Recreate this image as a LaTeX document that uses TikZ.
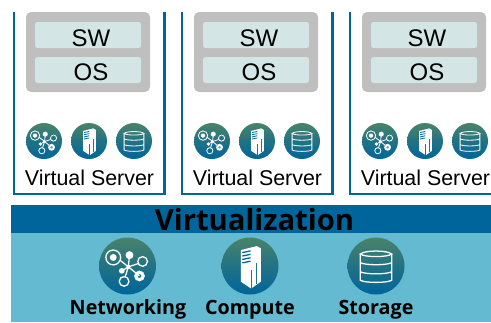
\documentclass[tikz,border=0pt]{standalone}
\usepackage{fontspec}
\setmainfont{Liberation Sans}
\newfontfamily\boldlabel{Open Sans}
\definecolor{frameblue}{HTML}{00659B}
\definecolor{panelblue}{HTML}{63BAD1}
\definecolor{boxgray}{HTML}{BFBFBF}
\definecolor{boxpale}{HTML}{D3E5E4}
\definecolor{icongreen}{HTML}{4A8369}
\tikzset{
  x=1pt,y=-1pt,
  servframe/.style={draw=frameblue,line width=2.5pt},
  graybox/.style={fill=boxgray,rounded corners=5pt},
  palebox/.style={fill=boxpale,rounded corners=2.5pt},
  layertext/.style={font=\fontsize{24}{26}\selectfont,text=black,inner sep=0pt,anchor=base},
  vstext/.style={font=\fontsize{21.4}{24}\selectfont,text=black,inner sep=0pt,anchor=base},
  baselabel/.style={font=\boldlabel\bfseries\fontsize{19.7}{22}\selectfont,text=black,inner sep=0pt,anchor=base},
  icondisc/.style={top color=icongreen,bottom color=frameblue,middle color=icongreen!45!frameblue},
  pics/netic/.style={code={
    \shade[icondisc] (0,0) circle[radius=#1];
    \begin{scope}[x=#1 pt,y=-#1 pt,draw=white,fill=white,line width=#1*0.045pt]
      \draw (0.03,0.03) -- (-0.26,-0.2) (0.03,0.03) -- (0.07,-0.38) (0.03,0.03) -- (0.39,-0.09)
            (0.03,0.03) -- (-0.2,0.17) (0.03,0.03) -- (0.42,0.35) (0.03,0.03) -- (-0.08,0.38);
      \fill (0.03,0.03) circle[radius=0.07];
      \draw[fill=none] (-0.5,-0.3) circle[radius=0.26];
      \fill (-0.5,-0.3) circle[radius=0.12];
      \fill (0.07,-0.38) circle[radius=0.14];
      \draw[fill=none] (0.53,-0.16) circle[radius=0.17];
      \fill (-0.2,0.17) circle[radius=0.1];
      \draw[fill=none,line width=#1*0.11pt] (0.42,0.35) circle[radius=0.13];
      \draw[fill=none] (-0.12,0.54) circle[radius=0.17];
    \end{scope}
  }},
  pics/towic/.style={code={
    \shade[icondisc] (0,0) circle[radius=#1];
    \begin{scope}[x=#1 pt,y=-#1 pt]
      \fill[white] (-0.32,-0.56) -- (0.24,-0.7) -- (0.38,-0.62) -- (0.38,0.55) -- (0.04,0.79) -- (-0.32,0.55) -- cycle;
      \draw[icongreen!50!frameblue,line width=#1*0.03pt]
        (0.24,-0.1) -- (0.24,0.62) (0.04,0.14) -- (0.04,0.79);
      \draw[frameblue,line width=#1*0.045pt]
        (-0.27,-0.47) -- (0.02,-0.53) (-0.27,-0.35) -- (0.02,-0.41) (-0.27,-0.23) -- (0.02,-0.29)
        (-0.27,-0.11) -- (0.02,-0.17);
    \end{scope}
  }},
  pics/stoic/.style={code={
    \shade[icondisc] (0,0) circle[radius=#1];
    \begin{scope}[x=#1 pt,y=-#1 pt,draw=white,line width=#1*0.045pt]
      \draw (-0.55,-0.42) -- (-0.55,0.5) .. controls (-0.4,0.6) and (0.4,0.6) .. (0.55,0.5) -- (0.55,-0.42);
      \draw (-0.55,-0.42) .. controls (-0.4,-0.56) and (0.4,-0.56) .. (0.55,-0.42)
            .. controls (0.4,-0.3) and (-0.4,-0.3) .. cycle;
      \draw (-0.55,-0.12) .. controls (-0.4,-0.02) and (0.4,-0.02) .. (0.55,-0.12);
      \draw (-0.55,0.2) .. controls (-0.4,0.3) and (0.4,0.3) .. (0.55,0.2);
    \end{scope}
  }},
  pics/vserver/.style={code={
    \draw[servframe] (14,12) -- (14,194) -- (164.5,194) -- (164.5,12);
    \fill[graybox] (26,12) rectangle (150,92);
    \fill[palebox] (35,22) rectangle (141,48);
    \fill[palebox] (35,57) rectangle (141,83);
    \pic at (44,141) {netic=18};
    \pic at (89,141) {towic=18};
    \pic at (134,141) {stoic=18};
  }}
}
\begin{document}
\begin{tikzpicture}
\useasboundingbox (0,0) rectangle (491,322);
\clip (0,0) rectangle (491,322);
\pic at (0,0) {vserver};
\pic at (168,0) {vserver};
\pic at (336,0) {vserver};
\node[layertext] (sw1) at (91,46.5) {SW};
\node[layertext] (os1) at (91,80.5) {OS};
\node[vstext] (vs1) at (89.5,185) {Virtual Server};
\node[layertext] (sw2) at (259,46.5) {SW};
\node[layertext] (os2) at (259,80.5) {OS};
\node[vstext] (vs2) at (257.5,185) {Virtual Server};
\node[layertext] (sw3) at (427,46.5) {SW};
\node[layertext] (os3) at (427,80.5) {OS};
\node[vstext] (vs3) at (425.5,185) {Virtual Server};
\fill[panelblue] (11,233) rectangle (491,322);
\fill[frameblue] (11,205) rectangle (491,233);
\node[font=\boldlabel\bfseries\fontsize{29.2}{32}\selectfont,text=black,inner sep=0pt,anchor=base] (virt) at (254.5,230.5) {Virtualization};
\pic at (127.5,266) {netic=28.5};
\pic at (250,266) {towic=28.5};
\pic at (376,266) {stoic=28.5};
\node[baselabel] (netl) at (128,314) {Networking};
\node[baselabel] (coml) at (250,314) {Compute};
\node[baselabel] (stol) at (376,314) {Storage};
\end{tikzpicture}
\end{document}
